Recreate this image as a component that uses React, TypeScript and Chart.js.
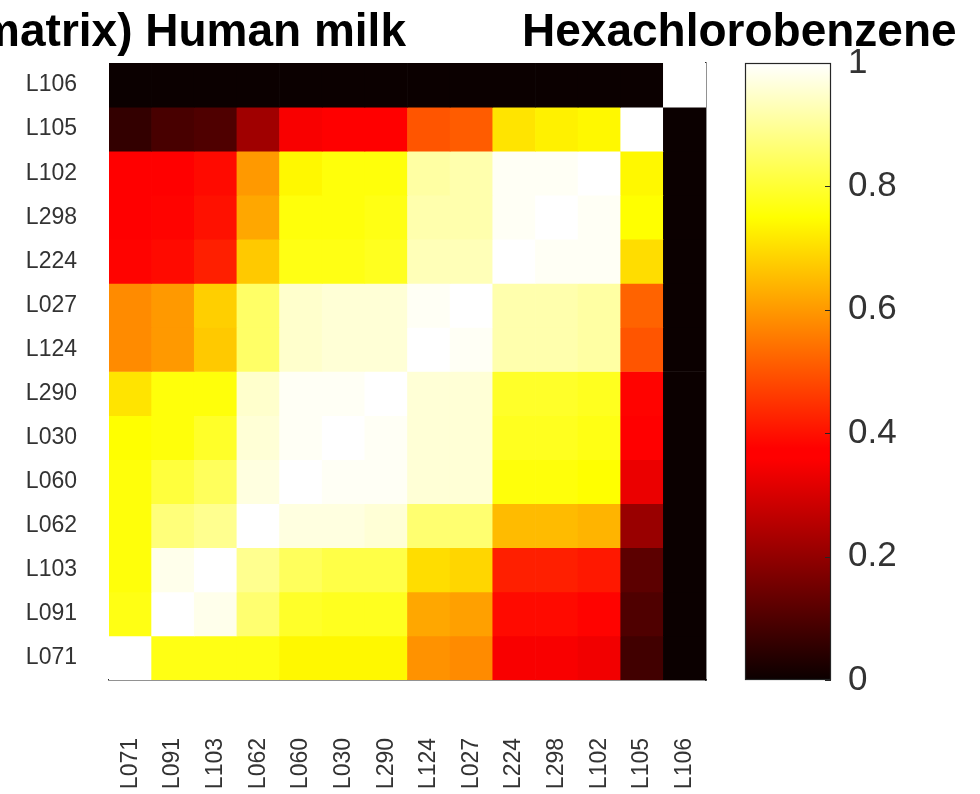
import React, { useEffect, useRef } from 'react';
import { Chart, registerables } from 'chart.js';

Chart.register(...registerables);

// Column order (left to right) and row order (top to bottom)
const colLabels = ['L071', 'L091', 'L103', 'L062', 'L060', 'L030', 'L290', 'L124', 'L027', 'L224', 'L298', 'L102', 'L105', 'L106'];
const rowLabels = ['L106', 'L105', 'L102', 'L298', 'L224', 'L027', 'L124', 'L290', 'L030', 'L060', 'L062', 'L103', 'L091', 'L071'];

// Correlation values per row (same column order as colLabels)
const rowL106 = [0, 0, 0, 0, 0, 0, 0, 0, 0, 0, 0, 0, 0, 1];
const rowL105 = [0.06, 0.09, 0.1, 0.22, 0.35, 0.36, 0.36, 0.5, 0.51, 0.71, 0.73, 0.74, 1, 0];
const rowL102 = [0.37, 0.37, 0.39, 0.6, 0.74, 0.76, 0.76, 0.91, 0.92, 0.99, 0.99, 1, 0.74, 0];
const rowL298 = [0.37, 0.38, 0.4, 0.62, 0.76, 0.76, 0.77, 0.92, 0.92, 0.99, 1, 0.99, 0.75, 0];
const rowL224 = [0.38, 0.39, 0.42, 0.67, 0.77, 0.77, 0.78, 0.93, 0.93, 1, 0.99, 0.99, 0.7, 0];
const rowL027 = [0.58, 0.6, 0.68, 0.85, 0.95, 0.96, 0.96, 0.99, 1, 0.92, 0.92, 0.91, 0.52, 0];
const rowL124 = [0.58, 0.6, 0.67, 0.85, 0.95, 0.96, 0.96, 1, 0.99, 0.92, 0.92, 0.91, 0.5, 0];
const rowL290 = [0.71, 0.76, 0.76, 0.95, 0.99, 0.99, 1, 0.96, 0.96, 0.79, 0.79, 0.78, 0.38, 0];
const rowL030 = [0.75, 0.76, 0.79, 0.96, 0.99, 1, 0.99, 0.96, 0.96, 0.78, 0.78, 0.77, 0.36, 0];
const rowL060 = [0.76, 0.81, 0.84, 0.97, 1, 0.99, 0.99, 0.96, 0.96, 0.76, 0.76, 0.75, 0.33, 0];
const rowL062 = [0.76, 0.87, 0.89, 1, 0.97, 0.97, 0.96, 0.86, 0.86, 0.65, 0.65, 0.64, 0.21, 0];
const rowL103 = [0.76, 0.98, 1, 0.89, 0.84, 0.82, 0.82, 0.7, 0.69, 0.42, 0.42, 0.41, 0.12, 0];
const rowL091 = [0.77, 1, 0.98, 0.86, 0.79, 0.78, 0.78, 0.62, 0.61, 0.39, 0.39, 0.38, 0.1, 0];
const rowL071 = [1, 0.77, 0.77, 0.77, 0.74, 0.74, 0.74, 0.59, 0.58, 0.35, 0.35, 0.34, 0.08, 0];

const matrixRows = [rowL106, rowL105, rowL102, rowL298, rowL224, rowL027, rowL124, rowL290, rowL030, rowL060, rowL062, rowL103, rowL091, rowL071];

const colorbarTicks = [0, 0.2, 0.4, 0.6, 0.8, 1];
// breakpoints of the piecewise-linear "hot" colormap
const hotStops = [0, 0.3594, 0.375, 0.75, 1];

const titleLeft = 'matrix) Human milk';
const titleRight = 'Hexachlorobenzene';

const FONT = '"Liberation Sans", Arial, Helvetica, sans-serif';
const TEXT = '#333333';

// MATLAB-style "hot" colormap (continuous)
function hot(v: number): string {
  const t = Math.max(0, Math.min(1, v));
  const r = Math.min(1, 0.0417 + t / 0.375);
  const g = Math.max(0, Math.min(1, (t - 0.375) / 0.375));
  const b = Math.max(0, Math.min(1, (t - 0.75) / 0.25));
  return `rgb(${Math.round(r * 255)},${Math.round(g * 255)},${Math.round(b * 255)})`;
}

function HeatmapChart() {
  const ref = useRef<HTMLCanvasElement>(null);
  useEffect(() => {
    if (!ref.current) return;
    const nRows = rowLabels.length;
    const datasets = matrixRows.map((vals, i) => {
      const y0 = nRows - 1 - i;
      return {
        label: rowLabels[i],
        data: vals.map(() => [y0, y0 + 1]),
        backgroundColor: vals.map((v) => hot(v)),
        borderWidth: 0,
        barPercentage: 1,
        categoryPercentage: 1,
        grouped: false,
      };
    });
    const chart = new Chart(ref.current, {
      type: 'bar',
      data: { labels: colLabels, datasets: datasets as any },
      options: {
        responsive: false,
        animation: false,
        layout: { padding: { left: 0, top: 63, right: 14, bottom: 0 } },
        plugins: {
          legend: { display: false },
          tooltip: { enabled: false },
          title: { display: false },
        },
        scales: {
          x: {
            type: 'category',
            grid: { display: false, drawTicks: false },
            border: { display: true, color: '#262626', width: 1.5 },
            ticks: {
              autoSkip: false,
              minRotation: 90,
              maxRotation: 90,
              padding: 58,
              color: TEXT,
              font: { family: FONT, size: 23 },
            },
            afterFit: (s: any) => {
              s.height = 114;
              s.paddingLeft = 0;
              s.paddingRight = 0;
            },
          },
          y: {
            type: 'linear',
            min: 0,
            max: nRows,
            grid: { display: false, drawTicks: false },
            border: { display: false },
            afterBuildTicks: (s: any) => {
              s.ticks = rowLabels.map((_, i) => ({ value: nRows - 1 - i + 0.5 }));
            },
            ticks: {
              padding: 32,
              color: TEXT,
              font: { family: FONT, size: 23 },
              callback: (v: any) => rowLabels[nRows - 1 - Math.floor(Number(v))],
            },
            afterFit: (s: any) => {
              s.width = 109;
              s.paddingTop = 0;
              s.paddingBottom = 0;
            },
          },
          y2: {
            type: 'linear',
            position: 'right',
            min: 0,
            max: nRows,
            grid: { display: false, drawTicks: false },
            border: { display: true, color: '#262626', width: 1.5 },
            ticks: { display: false },
            afterFit: (s: any) => {
              s.width = 0;
              s.paddingTop = 0;
              s.paddingBottom = 0;
            },
          },
        },
      } as any,
    });
    return () => chart.destroy();
  }, []);
  return <canvas ref={ref} width={720} height={794} style={{ position: 'absolute', left: 0, top: 0 }} />;
}

const colorbarFrame = {
  id: 'colorbarFrame',
  afterDatasetsDraw(chart: any) {
    const { ctx, chartArea: a } = chart;
    const ys = chart.scales.y;
    ctx.save();
    ctx.strokeStyle = '#262626';
    ctx.lineWidth = 1.2;
    ctx.strokeRect(a.left + 0.5, a.top + 0.5, a.right - a.left - 1, a.bottom - a.top - 1);
    ctx.beginPath();
    colorbarTicks.forEach((t) => {
      const y = Math.round(ys.getPixelForValue(t)) + 0.5;
      ctx.moveTo(a.right - 6, y);
      ctx.lineTo(a.right, y);
    });
    ctx.stroke();
    ctx.restore();
  },
};

function ColorbarChart() {
  const ref = useRef<HTMLCanvasElement>(null);
  useEffect(() => {
    if (!ref.current) return;
    const chart = new Chart(ref.current, {
      type: 'bar',
      data: {
        labels: [''],
        datasets: [
          {
            data: [[0, 1]],
            backgroundColor: (c: any) => {
              const ch = c.chart;
              const ys = ch.scales && ch.scales.y;
              if (!ch.chartArea || !ys) return hot(0.5);
              const g = ch.ctx.createLinearGradient(0, ys.getPixelForValue(0), 0, ys.getPixelForValue(1));
              hotStops.forEach((s) => g.addColorStop(s, hot(s)));
              return g;
            },
            borderWidth: 0,
            barPercentage: 1,
            categoryPercentage: 1,
          },
        ] as any,
      },
      plugins: [colorbarFrame],
      options: {
        responsive: false,
        animation: false,
        layout: { padding: { left: 25, top: 63, right: 0, bottom: 114 } },
        plugins: {
          legend: { display: false },
          tooltip: { enabled: false },
        },
        scales: {
          x: { display: false },
          y: {
            type: 'linear',
            position: 'right',
            min: 0,
            max: 1,
            grid: { display: false, drawTicks: false },
            border: { display: false },
            afterBuildTicks: (s: any) => {
              s.ticks = colorbarTicks.map((v) => ({ value: v }));
            },
            ticks: {
              padding: 17,
              color: TEXT,
              font: { family: FONT, size: 35 },
              callback: (v: any) => String(Math.round(Number(v) * 10) / 10),
            },
            afterFit: (s: any) => {
              s.width = 149;
            },
          },
        },
      } as any,
    });
    return () => chart.destroy();
  }, []);
  return <canvas ref={ref} width={260} height={794} style={{ position: 'absolute', left: 720, top: 0 }} />;
}

export default function App() {
  const titleStyle: React.CSSProperties = {
    position: 'absolute',
    top: 7,
    fontFamily: FONT,
    fontWeight: 'bold',
    fontSize: 46,
    lineHeight: '46px',
    whiteSpace: 'nowrap',
    color: '#000',
  };
  return (
    <div style={{ position: 'fixed', left: 0, top: 0, width: 980, height: 794, background: '#fff', overflow: 'hidden' }}>
      <HeatmapChart />
      <ColorbarChart />
      <div style={{ ...titleStyle, right: 980 - 406 }}>{titleLeft}</div>
      <div style={{ ...titleStyle, left: 522 }}>{titleRight}</div>
    </div>
  );
}
